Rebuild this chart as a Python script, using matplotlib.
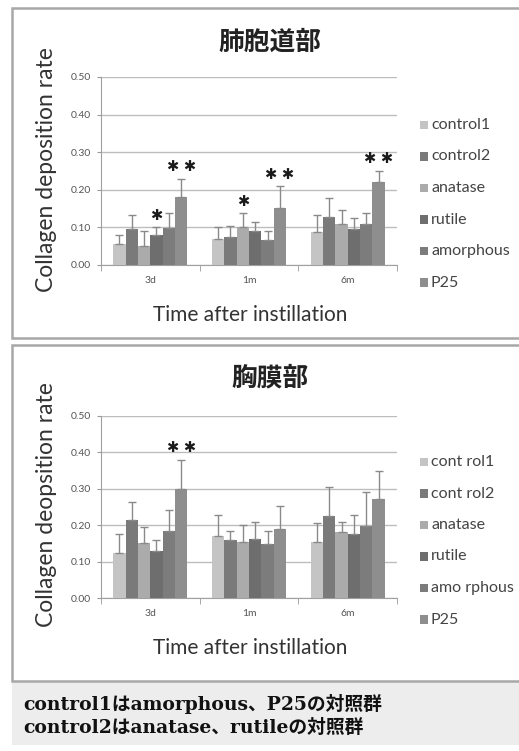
import matplotlib.pyplot as plt
import matplotlib.patches as mpatches
import numpy as np

plt.rcParams['font.family'] = ['Lato', 'Noto Sans CJK JP', 'DejaVu Sans']

times = ["3d", "1m", "6m"]
groups = ["control1", "control2", "anatase", "rutile", "amorphous", "P25"]
colors = ["#c4c4c4", "#7a7a7a", "#ababab", "#6e6e6e", "#7c7c7c", "#8e8e8e"]

# 肺胞道部 (mean, top of error bar)
alv_mean = [
    [0.055, 0.070, 0.088],
    [0.095, 0.075, 0.127],
    [0.050, 0.102, 0.108],
    [0.080, 0.090, 0.097],
    [0.098, 0.066, 0.108],
    [0.180, 0.152, 0.220],
]
alv_top = [
    [0.080, 0.100, 0.132],
    [0.132, 0.105, 0.178],
    [0.090, 0.137, 0.147],
    [0.100, 0.115, 0.126],
    [0.137, 0.090, 0.137],
    [0.230, 0.210, 0.250],
]
# significance marks: (group index, time index, label)
alv_marks = [(3, 0, "*"), (5, 0, "**"), (2, 1, "*"), (5, 1, "**"), (5, 2, "**")]

# 胸膜部
ple_mean = [
    [0.125, 0.170, 0.155],
    [0.213, 0.160, 0.224],
    [0.150, 0.153, 0.180],
    [0.128, 0.162, 0.176],
    [0.185, 0.148, 0.198],
    [0.300, 0.190, 0.273],
]
ple_top = [
    [0.175, 0.227, 0.205],
    [0.263, 0.185, 0.306],
    [0.195, 0.200, 0.210],
    [0.158, 0.210, 0.227],
    [0.243, 0.185, 0.290],
    [0.380, 0.253, 0.348],
]
ple_marks = [(5, 0, "**")]

W, H = 519, 751
fig = plt.figure(figsize=(W / 100, H / 100), dpi=100)


def fx(px):
    return px / W


def fy(px):
    return 1 - px / H


# panel frames and caption background
fig.add_artist(mpatches.Rectangle((fx(12), fy(681)), fx(520), fy(745) - fy(681),
                                  transform=fig.transFigure, facecolor="#ededed",
                                  edgecolor="none", zorder=-10))
for top, bot in [(8, 338), (345, 681)]:
    fig.add_artist(mpatches.Rectangle((fx(12), fy(bot)), fx(520), fy(top) - fy(bot),
                                      transform=fig.transFigure, facecolor="white",
                                      edgecolor="#a8a8a8", linewidth=1.8, zorder=-9))


def draw_panel(y0, y1, title, ylabel, means, tops, marks, title_y, xlabel_y,
               ylabel_y, leg_y, spaced):
    ax = fig.add_axes([fx(101), fy(y1), fx(397) - fx(101), fy(y0) - fy(y1)])
    ax.patch.set_alpha(0)
    x = np.arange(len(times))
    bw = 0.125
    for i, g in enumerate(groups):
        pos = x + (i - 2.5) * bw
        m = np.array(means[i])
        t = np.array(tops[i])
        ax.bar(pos, m, width=bw, color=colors[i], label=g, zorder=3)
        ax.errorbar(pos, m, yerr=[np.zeros_like(m), t - m], fmt="none",
                    ecolor="#8a8a8a", elinewidth=1, capsize=3, capthick=1, zorder=4)
    for gi, ti, lab in marks:
        px = x[ti] + (gi - 2.5) * bw
        txt = "✱" if lab == "*" else "✱ ✱"
        ax.text(px, tops[gi][ti] + 0.012, txt, ha="center", va="bottom",
                fontsize=10.5, color="#1a1a1a", family=['DejaVu Sans'], zorder=5)
    ax.set_xlim(-0.5, 2.5)
    ax.set_ylim(0, 0.5)
    ax.set_yticks(np.arange(0, 0.51, 0.1))
    ax.set_yticklabels([f"{v:.2f}" for v in np.arange(0, 0.51, 0.1)],
                       fontsize=7.5, color="#555555")
    ax.set_xticks(x)
    ax.set_xticklabels(times, fontsize=7.5, color="#555555")
    ax.tick_params(axis="x", length=0, pad=8)
    ax.tick_params(axis="y", length=3, color="#999999", pad=4)
    ax.set_xticks([-0.5, 0.5, 1.5, 2.5], minor=True)
    ax.tick_params(axis="x", which="minor", length=4, color="#999999")
    ax.grid(axis="y", color="#bdbdbd", linewidth=1, zorder=0)
    for s in ["top", "right"]:
        ax.spines[s].set_visible(False)
    for s in ["left", "bottom"]:
        ax.spines[s].set_color("#a0a0a0")
    fig.text(fx(270), fy(title_y), title, fontsize=18.5, fontweight="bold",
             ha="center", va="center", family=['Noto Sans CJK JP'], color="#222222")
    fig.text(fx(47), fy(ylabel_y), ylabel, fontsize=16.5, rotation=90,
             ha="center", va="center", color="#333333")
    fig.text(fx(250), fy(xlabel_y), "Time after instillation", fontsize=15,
             ha="center", va="center", color="#333333")
    handles, labels = ax.get_legend_handles_labels()
    for k, (h, lab) in enumerate(zip(handles, labels)):
        yy = fy(leg_y + k * 31.5)
        fig.add_artist(mpatches.Rectangle((fx(420), yy - 0.0055), fx(8), 0.011,
                                          transform=fig.transFigure,
                                          facecolor=colors[k], edgecolor="none"))
        name = lab.replace("contr", "cont r").replace("amor", "amo r") if spaced else lab
        fig.text(fx(431), yy, name, fontsize=11.5, ha="left", va="center",
                 color="#444444")
    return ax


draw_panel(77, 265, "肺胞道部", "Collagen deposition rate", alv_mean, alv_top,
           alv_marks, 42, 315, 170, 125, False)
draw_panel(416, 598, "胸膜部", "Collagen deopsition rate", ple_mean, ple_top,
           ple_marks, 378, 648, 505, 462, True)

cap_font = ['DejaVu Serif', 'Noto Sans CJK JP']
fig.text(fx(23), fy(704), "control1はamorphous、P25の対照群", fontsize=13.5,
         fontweight="bold", family=cap_font, ha="left", va="center", color="#111111")
fig.text(fx(23), fy(728), "control2はanatase、rutileの対照群", fontsize=13.5,
         fontweight="bold", family=cap_font, ha="left", va="center", color="#111111")

fig.savefig("out.png", dpi=100)
